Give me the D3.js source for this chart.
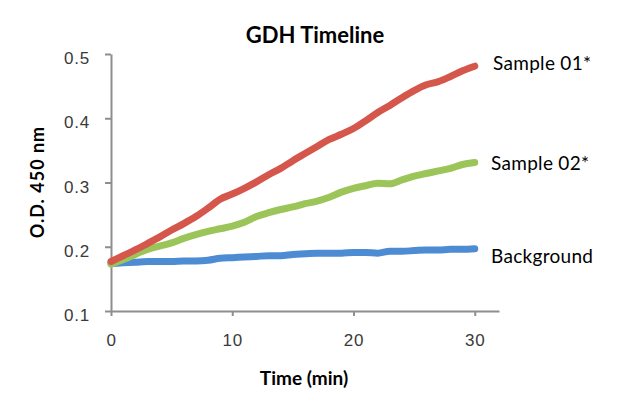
<!DOCTYPE html>
<html>
<head>
<meta charset="utf-8">
<script src="https://cdn.jsdelivr.net/npm/d3@7"></script>
<style>
  html, body { margin: 0; padding: 0; background: #fff; }
  svg { display: block; font-family: Lato, "Open Sans", sans-serif; }
  .axis path, .axis line { stroke: #8e8e8e; stroke-width: 2px; }
  .axis text { fill: #3a3a3a; font-size: 17px; letter-spacing: 0.8px; }
</style>
</head>
<body>
<svg width="640" height="398"></svg>
<script>
// minutes 0..30
const times = d3.range(0, 31);

const sample01 = [0.177, 0.186, 0.195, 0.205, 0.215, 0.226, 0.236, 0.247, 0.260, 0.274,
  0.282, 0.291, 0.301, 0.312, 0.322, 0.334, 0.345, 0.356, 0.367, 0.375,
  0.384, 0.396, 0.409, 0.420, 0.432, 0.443, 0.452, 0.457, 0.465, 0.474, 0.481];

const sample02 = [0.173, 0.180, 0.188, 0.196, 0.201, 0.206, 0.213, 0.219, 0.224, 0.228,
  0.232, 0.238, 0.247, 0.253, 0.258, 0.262, 0.267, 0.271, 0.277, 0.285,
  0.291, 0.295, 0.299, 0.298, 0.304, 0.310, 0.314, 0.318, 0.322, 0.328, 0.331];

const background = [0.174, 0.175, 0.176, 0.177, 0.177, 0.177, 0.178, 0.178, 0.179, 0.182,
  0.183, 0.184, 0.185, 0.186, 0.186, 0.188, 0.189, 0.190, 0.190, 0.190,
  0.191, 0.191, 0.190, 0.193, 0.193, 0.194, 0.195, 0.195, 0.196, 0.196, 0.197];

const seriesNames = ["Background", "Sample 02*", "Sample 01*"];
const seriesColors = ["#4d8cd2", "#9bc558", "#d5564b"];
const seriesData = [background, sample02, sample01];

const xTicks = [0, 10, 20, 30];
const yTicks = [0.1, 0.2, 0.3, 0.4, 0.5];

const svg = d3.select("svg");

const x = d3.scaleLinear().domain([0, 32]).range([111, 499]);
const y = d3.scaleLinear().domain([0.1, 0.5]).range([311, 54]);

// axes
const yAxis = svg.append("g")
  .attr("class", "axis")
  .attr("transform", `translate(${x(0)},0)`)
  .call(d3.axisLeft(y).tickValues(yTicks).tickFormat(d3.format(".1f"))
    .tickSize(6).tickSizeOuter(0).tickPadding(15));
yAxis.selectAll("text").attr("dy", "0.57em");

svg.append("g")
  .attr("class", "axis")
  .attr("transform", `translate(0,${y(0.1)})`)
  .call(d3.axisBottom(x).tickValues(xTicks).tickSize(5).tickSizeOuter(0).tickPadding(18));

// lines
const line = d3.line()
  .x((d, i) => x(times[i]))
  .y(d => y(d))
  .curve(d3.curveMonotoneX);

svg.append("g")
  .selectAll("path")
  .data(seriesData)
  .join("path")
  .attr("fill", "none")
  .attr("stroke", (d, i) => seriesColors[i])
  .attr("stroke-width", 7)
  .attr("stroke-linecap", "round")
  .attr("stroke-linejoin", "round")
  .attr("d", line);

// end labels
const labelY = [263, 170, 70];
const labelX = [491, 491, 493];
svg.append("g")
  .selectAll("text")
  .data(seriesNames)
  .join("text")
  .attr("x", (d, i) => labelX[i])
  .attr("y", (d, i) => labelY[i])
  .attr("font-size", 19)
  .attr("letter-spacing", "0.3px")
  .attr("fill", "#000")
  .text(d => d);

// titles
svg.append("text")
  .attr("x", 315).attr("y", 43)
  .attr("text-anchor", "middle")
  .attr("font-size", 22).attr("font-weight", "bold")
  .text("GDH Timeline");

svg.append("text")
  .attr("transform", "translate(44,182) rotate(-90)")
  .attr("text-anchor", "middle")
  .attr("font-size", 18).attr("font-weight", "bold")
  .attr("letter-spacing", "1px")
  .text("O.D. 450 nm");

svg.append("text")
  .attr("x", 304).attr("y", 385)
  .attr("text-anchor", "middle")
  .attr("font-size", 19).attr("font-weight", "bold")
  .text("Time (min)");
</script>
</body>
</html>
